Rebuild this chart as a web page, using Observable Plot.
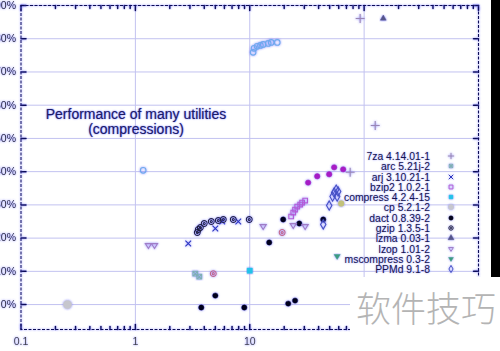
<!DOCTYPE html>
<html><head><meta charset="utf-8">
<script src="https://cdn.jsdelivr.net/npm/d3@7"></script>
<script src="https://cdn.jsdelivr.net/npm/@observablehq/plot@0.6"></script>
<style>
html,body{margin:0;padding:0;background:#fff;}
#wrap{position:relative;width:500px;height:351px;overflow:hidden;background:#fff;font-family:"Liberation Sans",Arial,sans-serif;}
#chart{position:absolute;left:-30px;top:0;}
#chart svg{background:transparent;}
#title{position:absolute;left:0px;width:272px;top:107px;text-align:center;font-size:14px;line-height:15px;color:#1c1c66;text-shadow:0 0 2px #8a8aff,0 0 1px #8a8aff;}
#legend{position:absolute;left:300px;top:152px;width:170px;}
#legend .row{position:relative;height:10.3px;}
#legend .lab{position:absolute;right:40px;top:0px;font-size:10.4px;line-height:10px;color:#141450;white-space:nowrap;text-shadow:0 0 2px #8a8aff;}
#legend svg{position:absolute;left:145px;top:-1px;}
#bar{position:absolute;left:491px;top:0;width:9px;height:277px;background:#000;}
#wm{position:absolute;left:350px;top:277px;width:150px;height:74px;background:#fff;}
#wm span{position:absolute;left:6px;top:10px;font-family:"Noto Sans CJK SC",sans-serif;font-size:35px;line-height:40px;color:#b4b4b4;font-weight:300;white-space:nowrap;}
</style></head><body>
<div id="wrap">
  <div id="chart"></div>
  <div id="title">Performance of many utilities<br>(compressions)</div>
  <div id="legend"></div>
  <div id="bar"></div>
  <div id="wm"><span>软件技巧</span></div>
</div>
<script>
// ---- axis ticks ----
const xTicks = [0.1, 1, 10, 100, 1000];
const xTickLabels = ["0.1", "1", "10", "100", "1000"];
const yTicks = [0, 10, 20, 30, 40, 50, 60, 70, 80, 90];
const yTickLabels = ["0%", "10%", "20%", "30%", "40%", "50%", "60%", "70%", "80%", "90%"];

// ---- series names ----
const seriesNames = ["7za 4.14.01-1", "arc 5.21j-2", "arj 3.10.21-1", "bzip2 1.0.2-1",
  "compress 4.2.4-15", "cp 5.2.1-2", "dact 0.8.39-2", "gzip 1.3.5-1", "lzma 0.03-1",
  "lzop 1.01-2", "mscompress 0.3-2", "PPMd 9.1-8"];

// ---- values: [time (s), saving (%)] ----
const za7 = [[75.5, 39.8], [92.3, 86.1], [125, 53.9]];
const arc = [[3.34, 9.3], [3.62, 8.4]];
const arj = [[2.90, 18.4], [5.0, 22.9], [5.75, 25.0], [7.94, 25.0]];
const bzip2 = [[23.0, 26.5], [24.0, 27.7], [24.9, 28.6], [26.0, 29.5], [27.6, 30.1], [28.7, 30.7], [30.5, 31.3]];
const compress = [[10.0, 10.2]];
const cp = [[0.255, 0]];
const dact = [[3.77, -0.9], [5.0, 2.7], [8.96, -0.9], [21.7, 0.3], [24.9, 1.2], [14.8, 18.7], [19.6, 25.6], [27.1, 24.4], [43.9, 25.6]];
const gzip = [[3.48, 21.7], [3.55, 22.6], [3.70, 23.2], [4.0, 24.4], [4.61, 25.0], [5.31, 25.3], [5.87, 25.6], [7.18, 25.6], [9.9, 25.6]];
const lzma = [[147, 86.1]];
const lzop = [[1.30, 17.8], [1.47, 17.8], [13.1, 23.5], [24.0, 23.8], [30.5, 23.5]];
const mscompress = [[58.1, 14.5]];
const ppmd = [[49.5, 29.8], [43.9, 24.1], [53.0, 32.5], [54.7, 33.7], [57.0, 34.6], [59.3, 34.0], [58.1, 32.5]];
// series whose legend rows are hidden under the watermark
const hiddenPurple = [[32.4, 36.7], [38.9, 38.6], [49.5, 39.2], [54.7, 41.3], [65.6, 40.7]];
const hiddenRose = [[4.80, 9.3], [19.2, 21.7]];
const hiddenYellow = [[63.0, 30.4]];
const hiddenBlue = [[1.17, 40.4], [10.7, 75.9], [10.9, 77.1], [11.6, 77.7], [12.4, 78.0], [13.1, 78.3], [14.5, 78.6], [15.4, 78.9], [17.4, 78.9]];

// ---- custom symbols ----
const invTriangle = {draw(ctx, size) {
  const s = Math.sqrt(size) * 0.62;
  ctx.moveTo(-s, -s * 0.6); ctx.lineTo(s, -s * 0.6); ctx.lineTo(0, s); ctx.closePath();
}};
const boxTimes = {draw(ctx, size) {
  const s = Math.sqrt(size) * 0.45;
  ctx.moveTo(-s, -s); ctx.lineTo(s, -s); ctx.lineTo(s, s); ctx.lineTo(-s, s); ctx.closePath();
  ctx.moveTo(-s, -s); ctx.lineTo(s, s); ctx.moveTo(s, -s); ctx.lineTo(-s, s);
}};
const ringDot = {draw(ctx, size) {
  const r = Math.sqrt(size / Math.PI);
  ctx.moveTo(r, 0); ctx.arc(0, 0, r, 0, 2 * Math.PI);
  const r2 = r * 0.35;
  ctx.moveTo(r2, 0); ctx.arc(0, 0, r2, 0, 2 * Math.PI);
}};

// ---- styles ----
const seriesData = [za7, arc, arj, bzip2, compress, cp, dact, gzip, lzma, lzop, mscompress, ppmd];
const seriesStyles = [
  {color: "#9a86b4", symbol: d3.symbolPlus, filled: false, r: 3},
  {color: "#7fb0b4", symbol: boxTimes, filled: false, r: 3},
  {color: "#2b35c0", symbol: d3.symbolTimes, filled: false, r: 2.7},
  {color: "#b35cd6", symbol: d3.symbolSquare, filled: false, r: 2.6},
  {color: "#22c2e8", symbol: d3.symbolSquare, filled: true, r: 3},
  {color: "#c6c6ce", symbol: d3.symbolCircle, filled: true, r: 4.2},
  {color: "#05051e", symbol: d3.symbolCircle, filled: true, r: 2.7},
  {color: "#24243e", symbol: ringDot, filled: false, r: 2.9},
  {color: "#55558a", symbol: d3.symbolTriangle, filled: true, r: 2.2},
  {color: "#a07cc6", symbol: invTriangle, filled: false, r: 2.8},
  {color: "#3d9c80", symbol: invTriangle, filled: true, r: 2.8},
  {color: "#4651c4", symbol: d3.symbolDiamond, filled: false, r: 2.8}
];
const hiddenData = [hiddenPurple, hiddenRose, hiddenYellow, hiddenBlue];
const hiddenStyles = [
  {color: "#a61fc4", symbol: d3.symbolCircle, filled: true, r: 2.7},
  {color: "#c46a86", symbol: ringDot, filled: false, r: 2.9},
  {color: "#c2c27a", symbol: d3.symbolCircle, filled: true, r: 3},
  {color: "#6fa9ee", symbol: d3.symbolCircle, filled: false, r: 2.8}
];

function dotMark(data, st) {
  return Plot.dot(data, {
    x: d => d[0], y: d => d[1], symbol: st.symbol, r: st.r,
    fill: st.filled ? st.color : "none",
    stroke: st.color, strokeWidth: st.filled ? 0.5 : 1.1
  });
}

const xMinor = d3.range(-1, 3).flatMap(e => d3.range(2, 10).map(m => m * Math.pow(10, e)));
const tickShape = {draw(ctx, l) { ctx.moveTo(0, 0); ctx.lineTo(0, -l); }};
const frameColor = "#0a0a55";

const chart = Plot.plot({
  width: 530, height: 351,
  marginLeft: 50.5, marginRight: 22, marginTop: 5, marginBottom: 22,
  style: {fontFamily: "Liberation Sans, Arial, sans-serif", background: "transparent", overflow: "visible"},
  x: {type: "log", domain: [0.1, 1000]},
  y: {domain: [-7.5, 90]},
  marks: [
    Plot.gridY(yTicks, {stroke: "#c2c2f0", strokeOpacity: 1, strokeWidth: 1}),
    Plot.gridX([1, 10, 100], {stroke: "#c2c2f0", strokeOpacity: 1, strokeWidth: 1}),
    Plot.axisY({ticks: yTicks, tickSize: 0, tickPadding: 5, fontSize: 10.5, fill: "#2a2a2a",
      tickFormat: d => yTickLabels[yTicks.indexOf(d)], label: null}),
    Plot.axisX({ticks: xTicks, tickSize: 0, tickPadding: 8, fontSize: 10.5, fill: "#444",
      tickFormat: d => xTickLabels[xTicks.indexOf(d)], label: null}),
    Plot.vector(yTicks, {y: d => d, frameAnchor: "left", rotate: 90, length: 5, anchor: "start", shape: tickShape, stroke: frameColor}),
    Plot.vector(yTicks, {y: d => d, frameAnchor: "right", rotate: -90, length: 5, anchor: "start", shape: tickShape, stroke: frameColor}),
    Plot.vector(xTicks, {x: d => d, frameAnchor: "bottom", rotate: 0, length: 5, anchor: "start", shape: tickShape, stroke: frameColor}),
    Plot.vector(xTicks, {x: d => d, frameAnchor: "top", rotate: 180, length: 5, anchor: "start", shape: tickShape, stroke: frameColor}),
    Plot.vector(xMinor, {x: d => d, frameAnchor: "bottom", rotate: 0, length: 3, anchor: "start", shape: tickShape, stroke: frameColor}),
    Plot.vector(xMinor, {x: d => d, frameAnchor: "top", rotate: 180, length: 3, anchor: "start", shape: tickShape, stroke: frameColor}),
    Plot.frame({stroke: frameColor, strokeDasharray: "3,1.5", strokeWidth: 1.1}),
    ...hiddenData.map((d, i) => dotMark(d, hiddenStyles[i])),
    ...seriesData.map((d, i) => dotMark(d, seriesStyles[i]))
  ]
});
document.getElementById("chart").appendChild(chart);

// soft blue glow on everything except the grid
const svgSel = d3.select(chart);
const filt = svgSel.insert("defs", ":first-child").append("filter").attr("id", "glow")
  .attr("x", "-20%").attr("y", "-20%").attr("width", "140%").attr("height", "140%");
filt.append("feDropShadow").attr("dx", 0).attr("dy", 0).attr("stdDeviation", 1)
  .attr("flood-color", "#5a5aff").attr("flood-opacity", 0.75);
svgSel.selectAll(":scope > g, :scope > rect").each(function() {
  const lab = this.getAttribute("aria-label") || "";
  if (!/grid/.test(lab)) this.setAttribute("filter", "url(#glow)");
});

// ---- legend ----
const legend = d3.select("#legend");
seriesNames.forEach((name, i) => {
  const st = seriesStyles[i];
  const row = legend.append("div").attr("class", "row");
  row.append("span").attr("class", "lab").text(name);
  const svg = row.append("svg").attr("width", 12).attr("height", 12)
    .style("overflow", "visible")
    .style("filter", "drop-shadow(0 0 1px rgba(70,70,255,.6))");
  const size = i === 5 ? 22 : 15;
  svg.append("path")
    .attr("transform", "translate(6,5)")
    .attr("d", d3.symbol(st.symbol, size)())
    .attr("fill", st.filled ? st.color : "none")
    .attr("stroke", st.color)
    .attr("stroke-width", st.filled ? 0.5 : 1);
});
</script>
</body></html>
